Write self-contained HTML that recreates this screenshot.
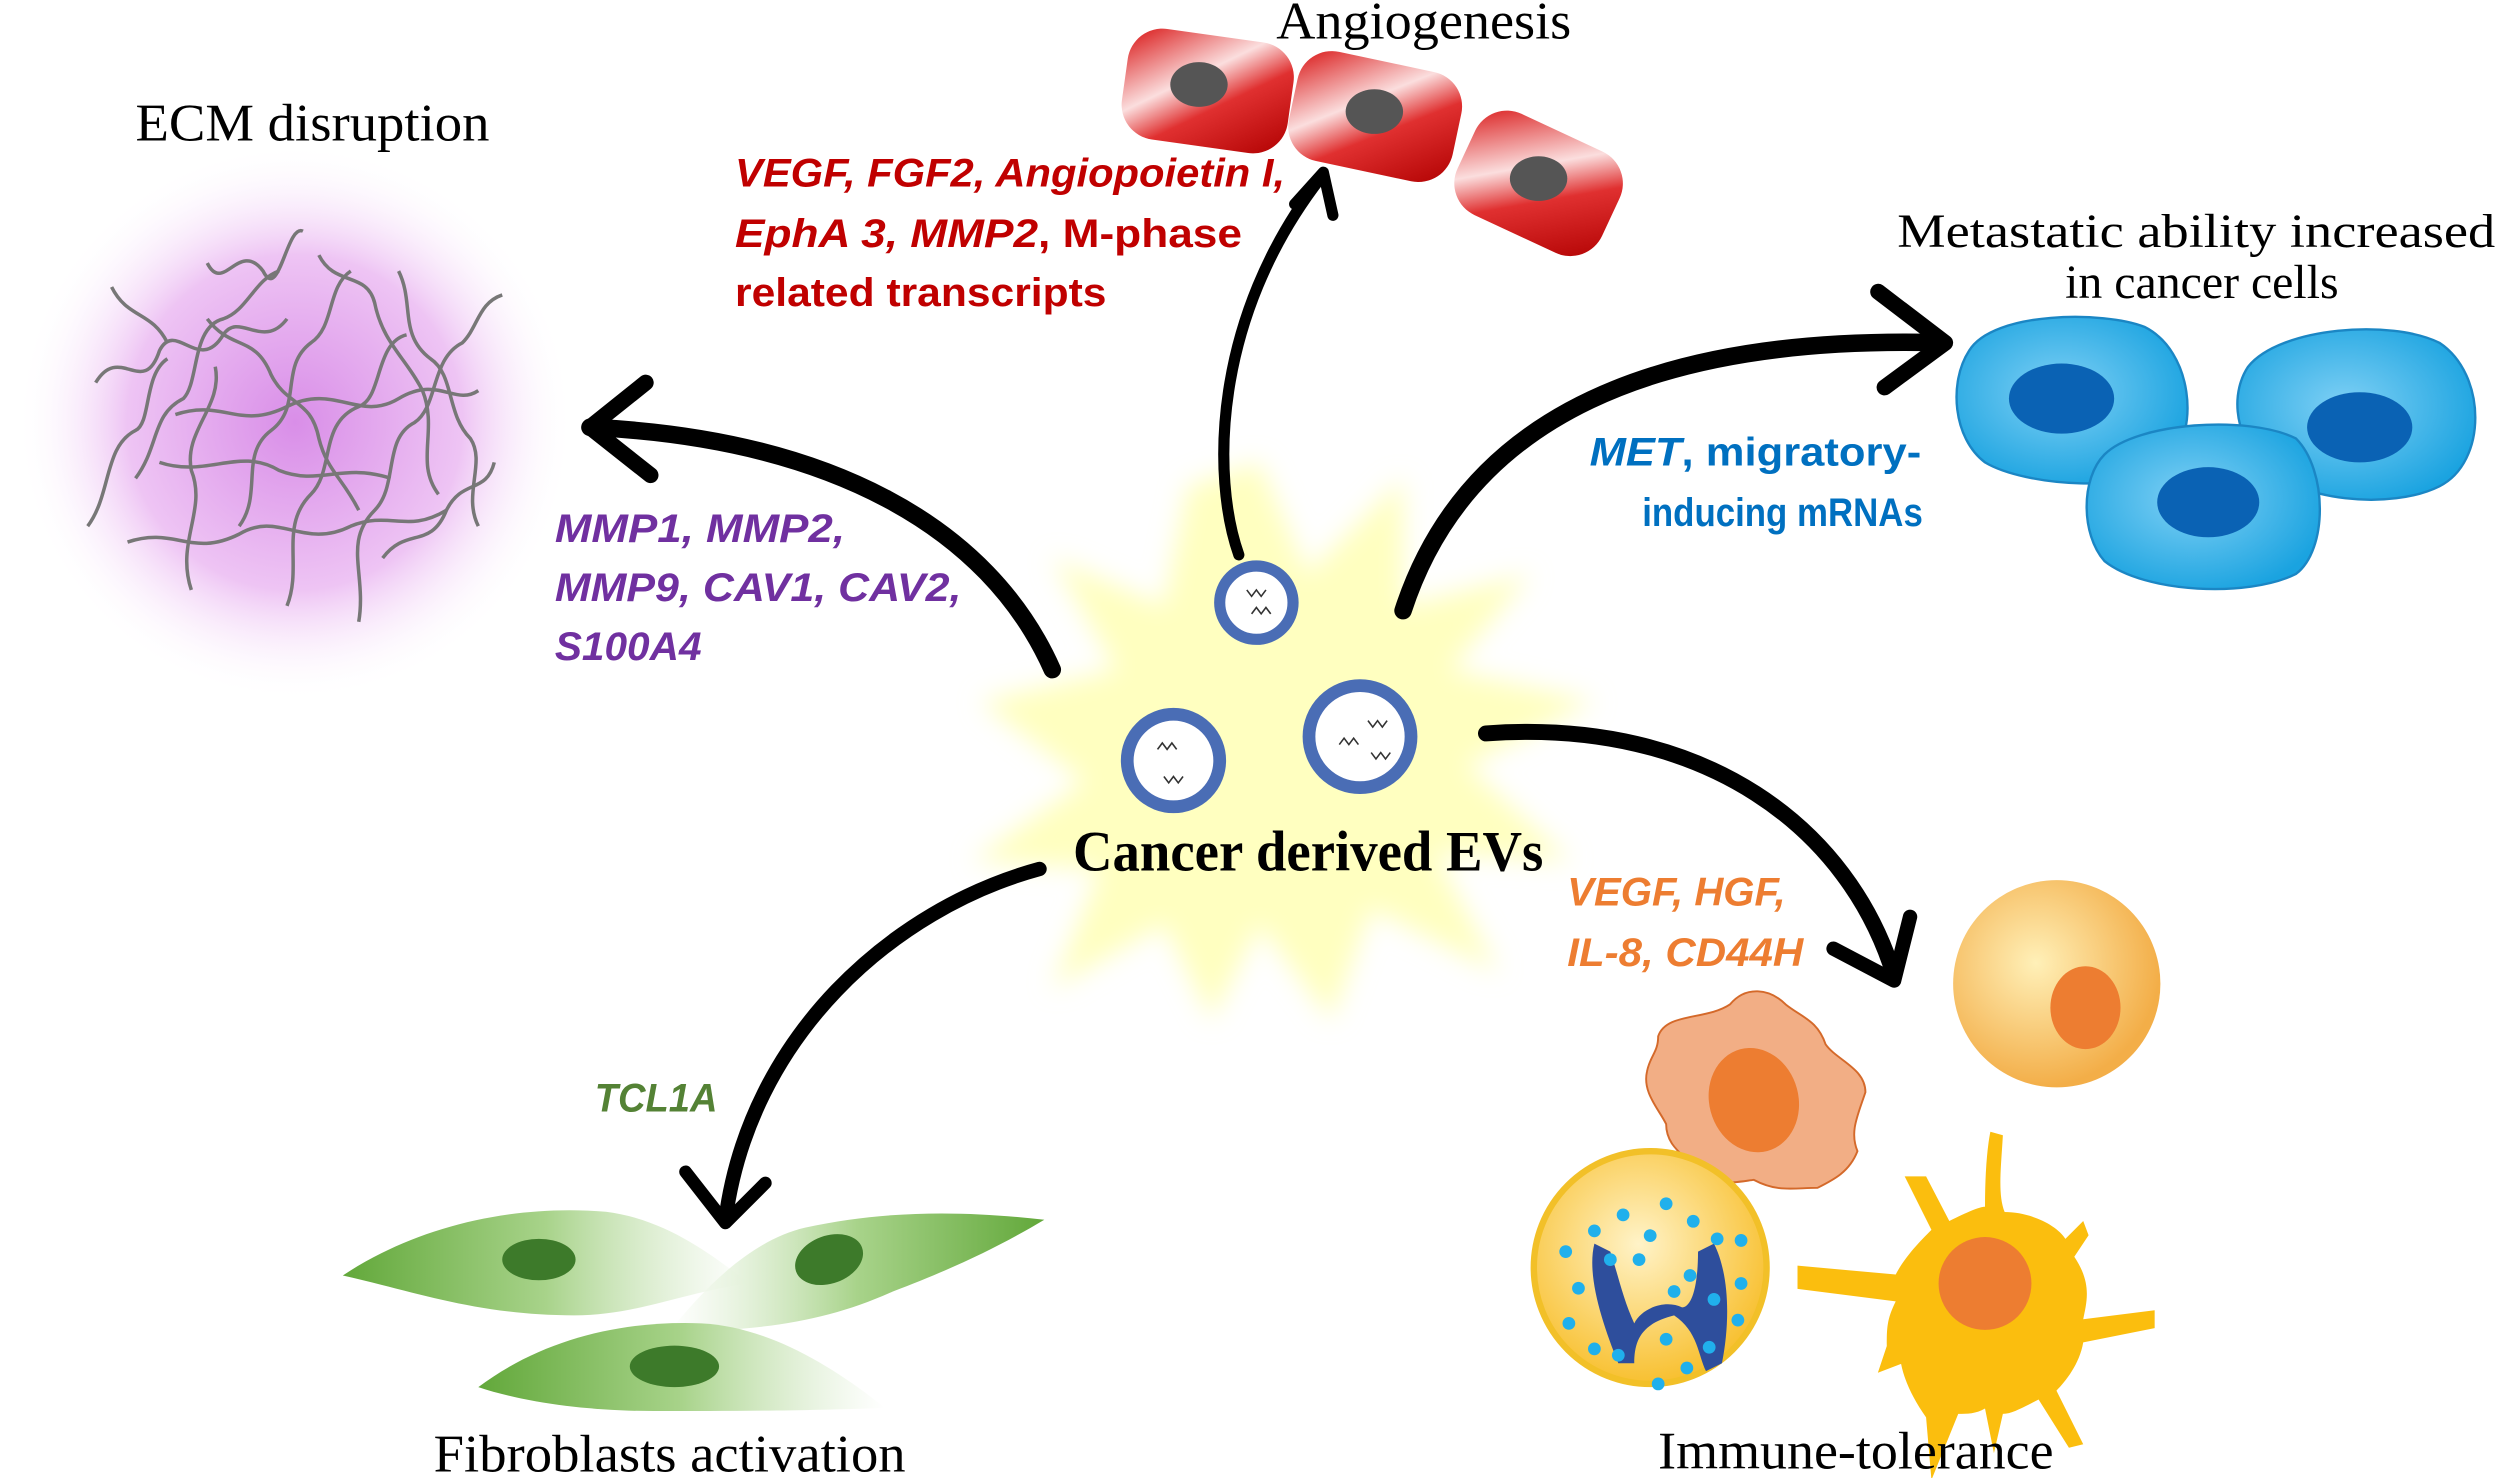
<!DOCTYPE html>
<html><head><meta charset="utf-8"><style>html,body{margin:0;padding:0;background:#fff;}svg{display:block}</style></head>
<body>
<svg width="2500" height="1478" viewBox="0 0 1568 927" preserveAspectRatio="none" xmlns="http://www.w3.org/2000/svg">
<defs>
<radialGradient id="ecm" cx="0.5" cy="0.5" r="0.5"><stop offset="0" stop-color="#d98ee8"/><stop offset="0.6" stop-color="#eec4f4"/><stop offset="1" stop-color="#fff" stop-opacity="0"/></radialGradient>
<linearGradient id="red" x1="0" y1="0" x2="1" y2="1"><stop offset="0" stop-color="#d81010"/><stop offset="0.4" stop-color="#fbdede"/><stop offset="0.6" stop-color="#e03030"/><stop offset="1" stop-color="#b00000"/></linearGradient>
<radialGradient id="blue" cx="0.45" cy="0.45" r="0.6"><stop offset="0" stop-color="#7fd0f5"/><stop offset="1" stop-color="#1aa3e0"/></radialGradient>
<linearGradient id="green" x1="0" y1="0" x2="1" y2="0"><stop offset="0" stop-color="#62a83a"/><stop offset="0.5" stop-color="#a8d38a"/><stop offset="1" stop-color="#ffffff" stop-opacity="0.6"/></linearGradient>
<linearGradient id="green2" x1="1" y1="0" x2="0" y2="0"><stop offset="0" stop-color="#62a83a"/><stop offset="0.5" stop-color="#a8d38a"/><stop offset="1" stop-color="#ffffff" stop-opacity="0.6"/></linearGradient>
<radialGradient id="org" cx="0.4" cy="0.4" r="0.6"><stop offset="0" stop-color="#fff0b8"/><stop offset="1" stop-color="#f3ae48"/></radialGradient>
<radialGradient id="yel" cx="0.45" cy="0.4" r="0.6"><stop offset="0" stop-color="#fff3c8"/><stop offset="1" stop-color="#f8c030"/></radialGradient>
<filter id="bl"><feGaussianBlur stdDeviation="8"/></filter>
</defs>

<circle cx="185" cy="265" r="175" fill="url(#ecm)"/>
<g fill="none" stroke="#777" stroke-width="2.2">
<path d="M70,180 C80,200 95,195 105,215 M130,165 C140,185 150,150 165,170 C175,190 180,140 190,145"/>
<path d="M60,240 C75,215 90,250 100,220 C110,200 125,235 140,210 C150,195 165,220 180,200"/>
<path d="M85,300 C100,280 95,260 115,250 C125,240 120,205 140,200 C155,195 160,175 175,170"/>
<path d="M55,330 C70,310 65,280 85,270 C95,265 90,235 105,225"/>
<path d="M120,370 C110,340 130,320 120,295 C115,270 140,255 135,230"/>
<path d="M150,330 C165,310 150,285 170,270 C190,255 175,230 195,215 C210,205 205,180 220,170"/>
<path d="M180,380 C190,355 175,330 195,310 C210,295 200,265 225,255 C240,250 235,215 255,210"/>
<path d="M225,390 C230,360 215,340 235,320 C250,305 240,275 260,265 C275,255 270,225 290,215 C300,205 300,190 315,185"/>
<path d="M110,260 C140,250 150,270 180,255 C210,240 225,265 250,250 C275,235 285,255 300,245"/>
<path d="M80,340 C110,330 120,350 150,335 C175,320 190,345 220,330 C245,320 255,335 280,320"/>
<path d="M200,160 C210,180 230,170 235,190 C240,215 255,225 265,245 C275,270 260,290 275,310"/>
<path d="M250,170 C260,190 250,210 270,225 C285,235 280,260 295,275 C305,290 290,310 300,330"/>
<path d="M100,290 C130,300 150,280 175,295 C200,305 215,290 245,300"/>
<path d="M240,350 C255,330 270,345 280,320 C290,300 305,310 310,290"/>
<path d="M130,200 C145,220 160,210 170,235 C180,255 195,250 200,275 C205,295 215,300 225,320"/>
</g>

<g filter="url(#bl)">
<polygon fill="#ffffc0" points="790,290 820,360 880,300 880,380 960,360 910,420 1000,440 920,480 985,540 900,535 940,610 860,570 835,640 790,580 760,640 730,580 660,620 690,545 610,540 680,490 615,440 700,420 660,350 730,380 745,305"/>
</g>

<g fill="#fff" stroke="#4a6db5">
<circle cx="788" cy="378" r="23" stroke-width="7"/>
<circle cx="736" cy="477" r="29" stroke-width="8"/>
<circle cx="853" cy="462" r="32" stroke-width="8"/>
</g>
<g fill="none" stroke="#333" stroke-width="1">
<path d="M782,370 l3,4 3,-4 3,4 3,-4 M785,385 l3,-4 3,4 3,-4 3,4"/>
<path d="M726,470 l3,-4 3,4 3,-4 3,4 M730,487 l3,4 3,-4 3,4 3,-4"/>
<path d="M858,452 l3,4 3,-4 3,4 3,-4 M840,467 l3,-4 3,4 3,-4 3,4 M860,472 l3,4 3,-4 3,4 3,-4"/>
</g>

<g>
<rect x="705" y="22" width="105" height="70" rx="22" fill="url(#red)" transform="rotate(8 757 57)"/>
<ellipse cx="752" cy="53" rx="18" ry="14" fill="#555"/>
<rect x="810" y="38" width="105" height="70" rx="22" fill="url(#red)" transform="rotate(12 862 73)"/>
<ellipse cx="862" cy="70" rx="18" ry="14" fill="#555"/>
<rect x="915" y="80" width="100" height="70" rx="22" fill="url(#red)" transform="rotate(25 965 115)"/>
<ellipse cx="965" cy="112" rx="18" ry="14" fill="#555"/>
</g>

<g stroke="#1b86c4" stroke-width="1.5">
<path d="M1235,220 C1250,195 1320,195 1345,205 C1375,220 1380,270 1360,290 C1340,310 1270,305 1245,290 C1225,275 1222,240 1235,220Z" fill="url(#blue)"/>
<path d="M1410,230 C1430,205 1500,200 1530,215 C1560,235 1560,290 1530,305 C1500,320 1440,315 1418,290 C1400,270 1400,245 1410,230Z" fill="url(#blue)"/>
<path d="M1320,285 C1340,265 1410,260 1440,275 C1460,295 1460,345 1440,360 C1410,375 1345,372 1320,352 C1305,335 1305,300 1320,285Z" fill="url(#blue)"/>
</g>
<g fill="#0a62b4">
<ellipse cx="1293" cy="250" rx="33" ry="22"/>
<ellipse cx="1480" cy="268" rx="33" ry="22"/>
<ellipse cx="1385" cy="315" rx="32" ry="22"/>
</g>

<path d="M215,800 C260,770 320,755 380,760 C420,765 450,790 470,805 C430,810 400,825 360,825 C300,825 260,810 215,800Z" fill="url(#green)"/>
<ellipse cx="338" cy="790" rx="23" ry="13" fill="#3d7a2a"/>
<path d="M655,765 C610,760 560,758 505,770 C470,778 440,810 420,835 C480,835 520,828 560,810 C600,795 630,780 655,765Z" fill="url(#green2)"/>
<ellipse cx="520" cy="790" rx="22" ry="15" fill="#3d7a2a" transform="rotate(-20 520 790)"/>
<path d="M300,870 C340,840 390,828 440,830 C480,832 520,855 555,883 C500,885 460,885 410,885 C370,885 330,880 300,870Z" fill="url(#green)"/>
<ellipse cx="423" cy="857" rx="28" ry="13" fill="#3d7a2a"/>

<path d="M1040,650 C1045,635 1070,640 1085,630 C1095,618 1110,620 1120,630 C1130,638 1140,640 1145,655 C1152,665 1170,670 1170,685 C1165,700 1160,710 1165,722 C1160,735 1150,740 1140,745 C1125,745 1115,748 1100,740 C1085,742 1070,745 1065,735 C1058,725 1045,720 1045,705 C1040,695 1030,685 1033,672 C1035,662 1040,660 1040,650Z" fill="#f2ae85" stroke="#d4692a" stroke-width="1.2"/>
<ellipse cx="1100" cy="690" rx="28" ry="33" fill="#ed7d31" transform="rotate(-15 1100 690)"/>
<circle cx="1290" cy="617" r="65" fill="url(#org)"/>
<ellipse cx="1308" cy="632" rx="22" ry="26" fill="#ed7d31"/>
<circle cx="1035" cy="795" r="73" fill="url(#yel)" stroke="#f2c028" stroke-width="4"/>
<path d="M1000,780 C995,800 1005,830 1015,855 L1025,855 C1025,840 1030,830 1050,825 C1065,835 1065,850 1070,860 L1080,855 C1085,830 1085,800 1075,780 L1065,785 C1065,810 1060,820 1055,820 C1045,815 1030,820 1025,830 C1018,815 1015,800 1010,785Z" fill="#2e4e9c"/>
<g fill="#20b0ec">
<circle cx="1000" cy="772" r="4"/><circle cx="1018" cy="762" r="4"/><circle cx="1045" cy="755" r="4"/><circle cx="1062" cy="766" r="4"/><circle cx="1077" cy="777" r="4"/><circle cx="1092" cy="778" r="4"/>
<circle cx="982" cy="785" r="4"/><circle cx="990" cy="808" r="4"/><circle cx="984" cy="830" r="4"/><circle cx="1000" cy="846" r="4"/><circle cx="1015" cy="850" r="4"/><circle cx="1040" cy="868" r="4"/><circle cx="1058" cy="858" r="4"/><circle cx="1072" cy="845" r="4"/><circle cx="1090" cy="828" r="4"/><circle cx="1092" cy="805" r="4"/><circle cx="1075" cy="815" r="4"/><circle cx="1045" cy="840" r="4"/><circle cx="1050" cy="810" r="4"/><circle cx="1028" cy="790" r="4"/><circle cx="1060" cy="800" r="4"/><circle cx="1010" cy="790" r="4"/><circle cx="1035" cy="775" r="4"/>
</g>
<g transform="translate(1245 805) scale(1.12) translate(-1245 -805)">
<path d="M1248,720 L1255,722 C1254,740 1252,755 1256,765 C1270,765 1285,772 1290,780 L1300,770 L1303,778 L1295,790 C1305,805 1302,815 1300,825 L1340,820 L1340,830 L1300,838 C1298,850 1290,860 1285,865 L1300,895 L1292,897 L1275,870 C1265,875 1260,878 1255,878 L1250,900 L1245,875 C1240,878 1235,878 1230,878 L1215,915 L1212,880 C1205,870 1200,860 1198,850 L1185,855 L1190,840 C1190,830 1190,825 1195,815 L1140,808 L1140,795 L1195,800 C1200,790 1210,780 1215,775 L1200,745 L1212,745 L1225,770 C1235,765 1242,762 1245,762 C1245,745 1246,730 1248,720Z" fill="#fbbe0e"/>
<circle cx="1245" cy="805" r="26" fill="#ed7d31"/>
</g>

<g fill="none" stroke="#000" stroke-linecap="round" stroke-linejoin="round">
<path d="M777,348 C760,300 760,200 828,112" stroke-width="7"/>
<path d="M812,128 L830,108 L836,135" stroke-width="7"/>
<path d="M660,420 C620,330 520,275 370,268" stroke-width="11"/>
<path d="M405,240 L370,268 L408,298" stroke-width="10"/>
<path d="M880,383 C920,260 1040,210 1218,215" stroke-width="11"/>
<path d="M1178,183 L1220,215 L1182,243" stroke-width="10"/>
<path d="M932,460 C1070,450 1160,520 1188,612" stroke-width="10"/>
<path d="M1150,595 L1188,615 L1198,575" stroke-width="9"/>
<path d="M652,545 C560,570 470,650 455,765" stroke-width="9"/>
<path d="M430,735 L455,767 L480,742" stroke-width="8"/>
</g>

<g font-family="'Liberation Serif', serif" fill="#000">
<text x="893" y="24" font-size="33" text-anchor="middle" textLength="185" lengthAdjust="spacingAndGlyphs">Angiogenesis</text>
<text x="196" y="88" font-size="33" text-anchor="middle" textLength="222" lengthAdjust="spacingAndGlyphs">ECM disruption</text>
<text x="1190" y="155" font-size="30" textLength="375" lengthAdjust="spacingAndGlyphs">Metastatic ability increased</text>
<text x="1381" y="187" font-size="30" text-anchor="middle">in cancer cells</text>
<text x="673" y="546" font-size="36" font-weight="bold" textLength="295" lengthAdjust="spacingAndGlyphs">Cancer derived EVs</text>
<text x="420" y="923" font-size="33" text-anchor="middle" textLength="296" lengthAdjust="spacingAndGlyphs">Fibroblasts activation</text>
<text x="1164" y="921" font-size="33" text-anchor="middle" textLength="248" lengthAdjust="spacingAndGlyphs">Immune-tolerance</text>
</g>
<g font-family="'Liberation Sans', sans-serif" font-weight="bold" font-size="25">
<g fill="#c00000">
<text x="461" y="117" font-style="italic" textLength="345" lengthAdjust="spacingAndGlyphs">VEGF, FGF2, Angiopoietin I,</text>
<text x="461" y="155" textLength="318" lengthAdjust="spacingAndGlyphs"><tspan font-style="italic">EphA 3, MMP2</tspan>, M-phase</text>
<text x="461" y="192" textLength="233" lengthAdjust="spacingAndGlyphs">related transcripts</text>
</g>
<g fill="#7030a0" font-style="italic">
<text x="348" y="340" textLength="182" lengthAdjust="spacingAndGlyphs">MMP1, MMP2,</text>
<text x="348" y="377" textLength="255" lengthAdjust="spacingAndGlyphs">MMP9, CAV1, CAV2,</text>
<text x="348" y="414" textLength="92" lengthAdjust="spacingAndGlyphs">S100A4</text>
</g>
<g fill="#0070c0">
<text x="997" y="292" textLength="208" lengthAdjust="spacingAndGlyphs"><tspan font-style="italic">MET</tspan>, migratory-</text>
<text x="1030" y="330" textLength="176" lengthAdjust="spacingAndGlyphs">inducing mRNAs</text>
</g>
<g fill="#ed7d31" font-style="italic">
<text x="983" y="568" textLength="137" lengthAdjust="spacingAndGlyphs">VEGF, HGF,</text>
<text x="983" y="606" textLength="148" lengthAdjust="spacingAndGlyphs">IL-8, CD44H</text>
</g>
<text x="373" y="697" fill="#548235" font-style="italic" textLength="77" lengthAdjust="spacingAndGlyphs">TCL1A</text>
</g>
</svg>
</body></html>
